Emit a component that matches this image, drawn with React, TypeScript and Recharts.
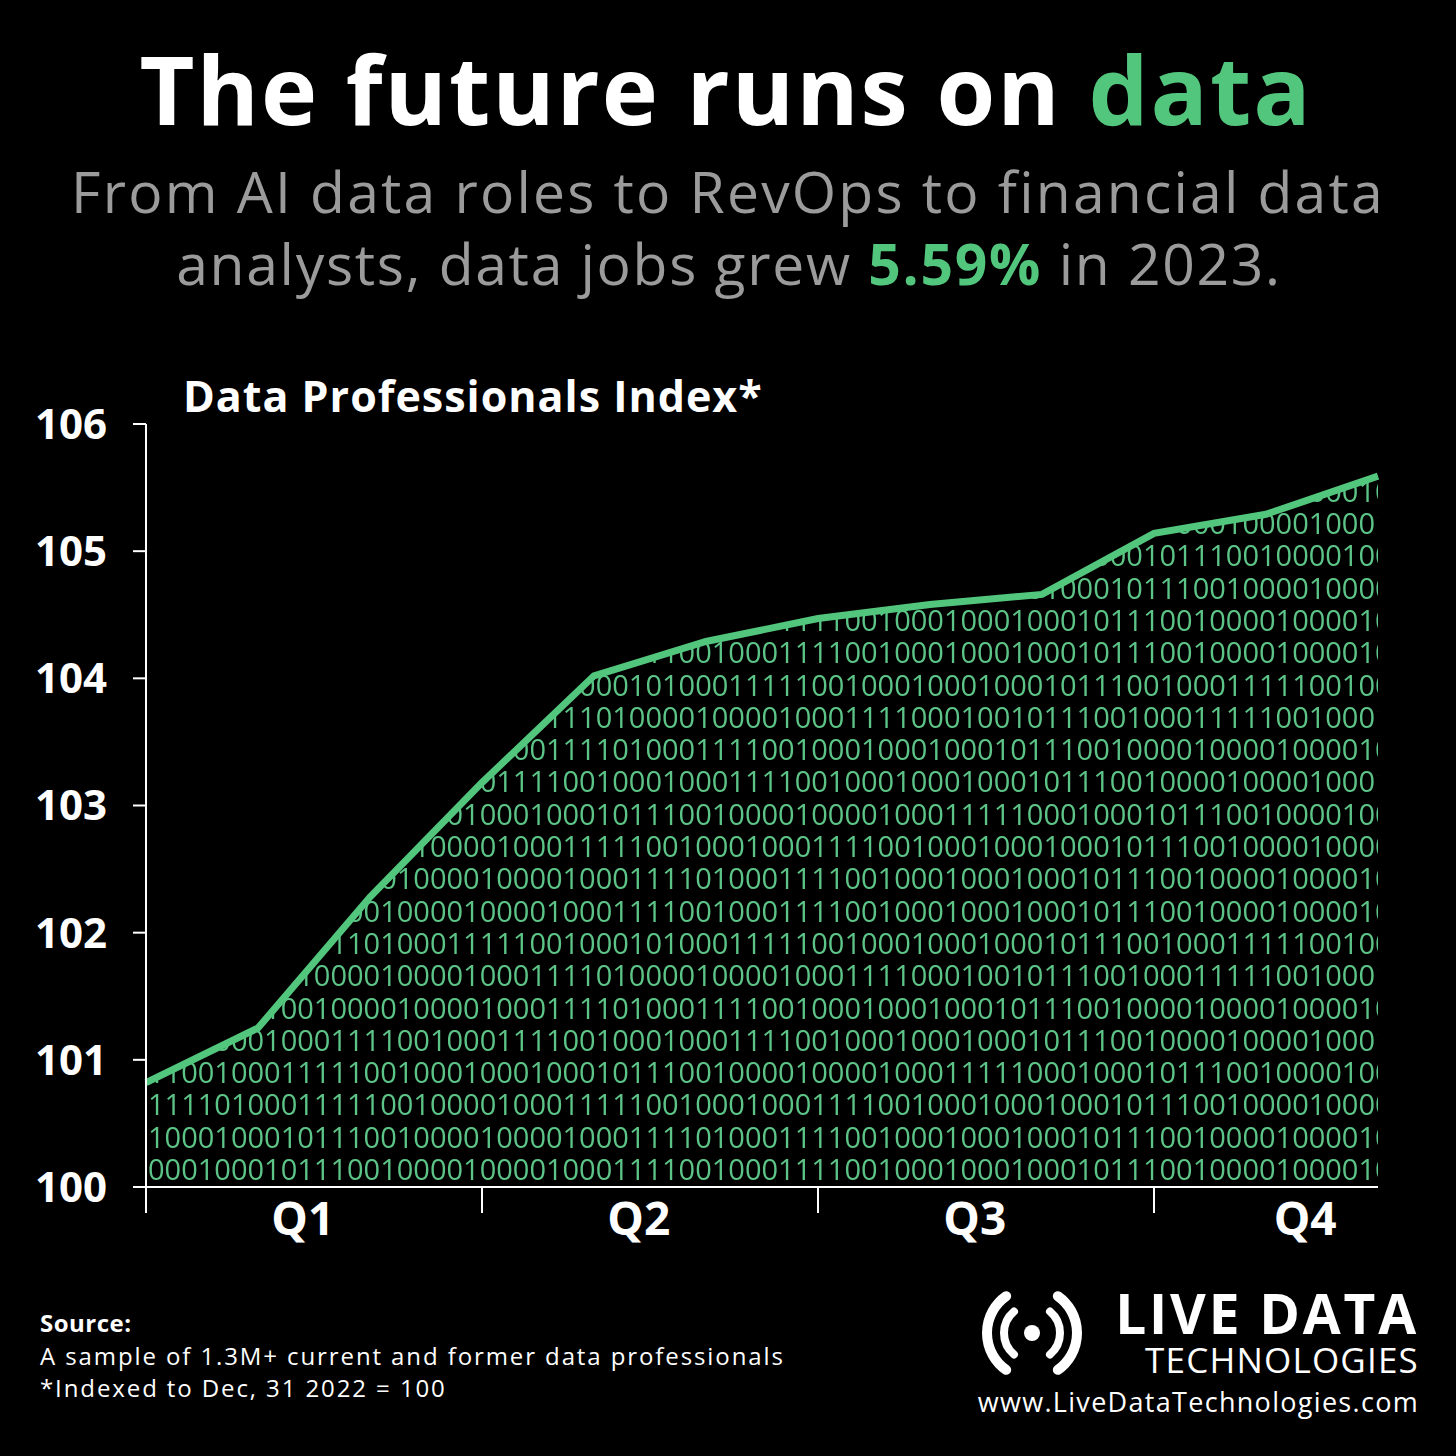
import React from 'react';
import { ComposedChart, Line, Area, XAxis, YAxis } from 'recharts';

const MONTHS = [0, 1, 2, 3, 4, 5, 6, 7, 8, 9, 10, 11];
const MONTH_LABELS = ['Jan', 'Feb', 'Mar', 'Apr', 'May', 'Jun', 'Jul', 'Aug', 'Sep', 'Oct', 'Nov', 'Dec'];
const INDEX_VALUES = [100.82, 101.25, 102.28, 103.18, 104.02, 104.29, 104.47, 104.58, 104.66, 105.14, 105.29, 105.59];
const Y_TICKS = [100, 101, 102, 103, 104, 105, 106];
const QUARTER_BOUNDS = [0, 3, 6, 9];
const QUARTER_LABEL_POS = [1.4, 4.4, 7.4, 10.35];
const QUARTER_LABELS = ['Q1', 'Q2', 'Q3', 'Q4'];
const BINARY_ROWS = [
  '0001000101110010000100001000111100100011110010001000100010111001000010000100011111001000100',
  '1000100010111001000010000100011110100011110010001000100010111001000010000100011111000100101',
  '1111010001111100100001000111110010001000111100100010001000101110010000100001000111100100011',
  '1100100011111001000100010001011100100001000010001111100010001011100100001000010000100111100',
  '0010000100011110010001111001000100011110010001000100010111001000010000100011110010001000111',
  '0001011100100001000010001111010001111001000100010001011100100001000010000100111100100010001',
  '0010111001000010000100011110100001000010001111000100101110010001111100100010001011100100001',
  '1000010001111010001111100100010100011111001000100010001011100100011111001000101110010001001',
];

const GREEN = '#52c67c';
const DIGIT_GREEN = '#5cc486';
const FONT = '"Open Sans", "Noto Sans", sans-serif';

const data = MONTHS.map((m, i) => ({ m, label: MONTH_LABELS[i], v: INDEX_VALUES[i] }));
const X_TICKS = [...QUARTER_BOUNDS, ...QUARTER_LABEL_POS].sort((a, b) => a - b);

const QuarterTick = (props: any) => {
  const { x, y, payload } = props;
  const val = payload.value;
  if (QUARTER_BOUNDS.includes(val)) {
    return <line x1={x} y1={y} x2={x} y2={y + 26} stroke="#fff" strokeWidth={2} />;
  }
  const idx = QUARTER_LABEL_POS.indexOf(val);
  return (
    <text x={x} y={y + 48} textAnchor="middle" fill="#fff" fontSize={46} fontWeight={700} fontFamily={FONT}>
      {QUARTER_LABELS[idx]}
    </text>
  );
};

const arc = (cx: number, cy: number, r: number, deg: number, left: boolean) => {
  const a = (deg * Math.PI) / 180;
  const dx = r * Math.cos(a);
  const dy = r * Math.sin(a);
  const x = left ? cx - dx : cx + dx;
  return `M ${x} ${cy - dy} A ${r} ${r} 0 0 ${left ? 0 : 1} ${x} ${cy + dy}`;
};

export default function App() {
  const rows = [];
  for (let k = 0; k < 24; k++) {
    rows.push(
      <text key={k} x={148} y={1180 - k * 32.3} fill={DIGIT_GREEN} fontSize={29} fontFamily={FONT}>
        {BINARY_ROWS[k % BINARY_ROWS.length]}
      </text>
    );
  }
  return (
    <div style={{ position: 'absolute', left: 0, top: 0, width: 1456, height: 1456, background: '#000', overflow: 'hidden' }}>
      <svg width={1456} height={1456} style={{ position: 'absolute', left: 0, top: 0 }}>
        <defs>
          <pattern id="binaryFill" patternUnits="userSpaceOnUse" x={0} y={0} width={1456} height={1456}>
            <rect x={0} y={0} width={1456} height={1456} fill="#000" />
            {rows}
          </pattern>
        </defs>
        <text x={726} y={125} textAnchor="middle" fill="#fff" fontSize={95} fontWeight={700} fontFamily={FONT} letterSpacing={2}>
          The future runs on <tspan fill={GREEN}>data</tspan>
        </text>
        <text x={728} y={213} textAnchor="middle" fill="#9b9b9b" fontSize={57} fontFamily={FONT} letterSpacing={2.2}>
          From AI data roles to RevOps to financial data
        </text>
        <text x={729} y={285} textAnchor="middle" fill="#9b9b9b" fontSize={57} fontFamily={FONT} letterSpacing={1.7}>
          analysts, data jobs grew <tspan fill={GREEN} fontWeight={700}>5.59%</tspan> in 2023.
        </text>
        <text x={183} y={412} fill="#fff" fontSize={43} fontWeight={700} fontFamily={FONT} letterSpacing={1}>
          Data Professionals Index*
        </text>
        <text x={40} y={1332} fill="#fff" fontSize={24} fontWeight={700} fontFamily={FONT} letterSpacing={0.5}>Source:</text>
        <text x={40} y={1365} fill="#fff" fontSize={24} fontFamily={FONT} letterSpacing={1.9}>A sample of 1.3M+ current and former data professionals</text>
        <text x={40} y={1397} fill="#fff" fontSize={24} fontFamily={FONT} letterSpacing={1.9}>*Indexed to Dec, 31 2022 = 100</text>
        <circle cx={1032} cy={1333} r={8} fill="#fff" />
        <path d={arc(1032, 1333, 28, 50, true)} stroke="#fff" strokeWidth={8} fill="none" strokeLinecap="round" />
        <path d={arc(1032, 1333, 28, 50, false)} stroke="#fff" strokeWidth={8} fill="none" strokeLinecap="round" />
        <path d={arc(1032, 1333, 45, 55, true)} stroke="#fff" strokeWidth={10} fill="none" strokeLinecap="round" />
        <path d={arc(1032, 1333, 45, 55, false)} stroke="#fff" strokeWidth={10} fill="none" strokeLinecap="round" />
        <text x={1419} y={1334} textAnchor="end" fill="#fff" fontSize={55} fontWeight={700} fontFamily={FONT} letterSpacing={2.8}>LIVE DATA</text>
        <text x={1419} y={1373} textAnchor="end" fill="#fff" fontSize={35} fontFamily={FONT} letterSpacing={1.2}>TECHNOLOGIES</text>
        <text x={1419} y={1412} textAnchor="end" fill="#fff" fontSize={27} fontFamily={FONT} letterSpacing={1.3}>www.LiveDataTechnologies.com</text>
      </svg>
      <div style={{ position: 'absolute', left: 0, top: 0 }}>
        <ComposedChart width={1456} height={1456} data={data} margin={{ top: 424, right: 78, bottom: 209, left: 0 }}>
          <XAxis
            dataKey="m"
            type="number"
            domain={[0, 11]}
            ticks={X_TICKS}
            interval={0}
            height={60}
            tickSize={0}
            tickMargin={0}
            tickLine={false}
            axisLine={{ stroke: '#fff', strokeWidth: 2 }}
            tick={<QuarterTick />}
          />
          <YAxis
            type="number"
            domain={[100, 106]}
            ticks={Y_TICKS}
            interval={0}
            width={146}
            tickSize={13}
            tickMargin={26}
            axisLine={{ stroke: '#fff', strokeWidth: 2 }}
            tickLine={{ stroke: '#fff', strokeWidth: 2 }}
            tick={{ fill: '#fff', fontSize: 42, fontWeight: 700, fontFamily: FONT }}
          />
          <Area type="linear" dataKey="v" stroke="none" fill="url(#binaryFill)" fillOpacity={1} isAnimationActive={false} />
          <Line type="linear" dataKey="v" stroke={GREEN} strokeWidth={7} dot={false} isAnimationActive={false} />
        </ComposedChart>
      </div>
    </div>
  );
}
